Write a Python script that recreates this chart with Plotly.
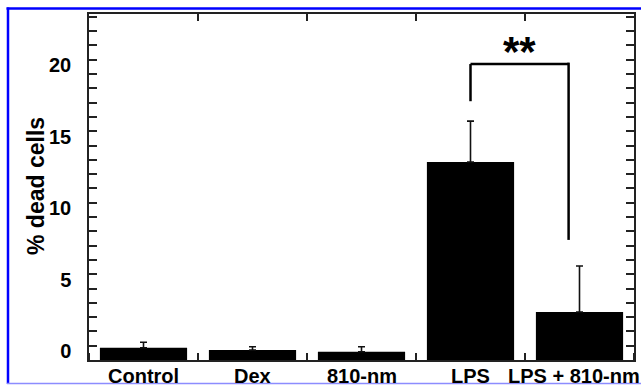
import plotly.graph_objects as go

categories = ["Control", "Dex", "810-nm", "LPS", "LPS + 810-nm"]
dead_pct = [0.86, 0.70, 0.58, 13.85, 3.36]
dead_err = [0.38, 0.23, 0.35, 2.86, 3.21]
y_ticks = [0, 5, 10, 15, 20]
y_title = "% dead cells"
# significance bracket: between LPS and LPS + 810-nm
sig_left_idx = 3.0
sig_right_idx = 3.9
sig_top = 20.7
sig_left_bottom = 18.1
sig_right_bottom = 8.4
sig_label = "**"

FONT = "Liberation Sans, Arial, sans-serif"
x_idx = list(range(len(categories)))

fig = go.Figure()
fig.add_trace(go.Bar(
    x=x_idx, y=dead_pct, width=0.8,
    marker=dict(color="black", line=dict(width=0)),
    error_y=dict(type="data", symmetric=False, array=dead_err,
                 arrayminus=[0] * len(dead_err),
                 color="#111", thickness=1.6, width=3.5),
    showlegend=False, hoverinfo="skip",
))
fig.add_trace(go.Scatter(x=[0], y=[0], xaxis="x2", mode="markers",
                         marker=dict(opacity=0), showlegend=False, hoverinfo="skip"))

line_col = "#222"
fig.update_layout(
    width=644, height=386,
    margin=dict(l=89, r=10, t=14, b=26),
    paper_bgcolor="white", plot_bgcolor="white",
    font=dict(family=FONT, color="black"),
    xaxis=dict(
        range=[-0.5, 4.5], showgrid=False, zeroline=False, automargin=False,
        showline=True, linecolor=line_col, linewidth=1.5,
        tickvals=x_idx, ticks="", showticklabels=False,
        minor=dict(ticks="inside", tick0=0.5, dtick=1, ticklen=7,
                   tickcolor=line_col, tickwidth=1.5),
    ),
    xaxis2=dict(
        overlaying="x", side="top", range=[-0.5, 4.5], showgrid=False,
        zeroline=False, showline=True, linecolor=line_col, linewidth=1.5,
        automargin=False,
        tickvals=[0.5, 1.5, 2.5, 3.5], ticks="inside", ticklen=7,
        tickcolor=line_col, tickwidth=1.5, showticklabels=False,
    ),
    yaxis=dict(
        range=[0, 24.2], showgrid=False, zeroline=False, automargin=False,
        showline=True, linecolor=line_col, linewidth=1.5, mirror="allticks",
        tickvals=y_ticks, ticks="inside", ticklen=8, tickwidth=1.5,
        tickcolor=line_col,
        tickfont=dict(size=20, family=FONT, weight="bold"),
        ticklabelshift=-9, ticklabelstandoff=12,
        minor=dict(ticks="inside", dtick=1, ticklen=5, tickwidth=1.5,
                   tickcolor=line_col),
    ),
)

px0, pw, py0, ph = 89, 545, 360, 346
def fx(p):
    return (p - px0) / pw
def fy(p):
    return (py0 - p) / ph

# category labels (last one nudged left so it stays inside the page)
for xi, cat in zip(x_idx, categories):
    fig.add_annotation(x=xi, xref="x", yref="paper", y=fy(375.5),
                       text=cat, showarrow=False, yanchor="middle",
                       xanchor="center",
                       xshift=-6 if xi == x_idx[-1] else 0,
                       font=dict(size=20, family=FONT, weight="bold"))

fig.add_annotation(xref="paper", yref="paper", x=fx(21), y=fy(186),
                   text=y_title, textangle=-90, showarrow=False,
                   font=dict(size=23, family=FONT, weight="bold"))

# significance bracket
bl = dict(color="black", width=2.5)
fig.add_shape(type="line", x0=sig_left_idx, x1=sig_left_idx,
              y0=sig_left_bottom, y1=sig_top, line=bl)
fig.add_shape(type="line", x0=sig_left_idx, x1=sig_right_idx,
              y0=sig_top, y1=sig_top, line=bl)
fig.add_shape(type="line", x0=sig_right_idx, x1=sig_right_idx,
              y0=sig_right_bottom, y1=sig_top + 0.1, line=bl)
fig.add_annotation(x=(sig_left_idx + sig_right_idx) / 2, y=sig_top + 0.85,
                   text=sig_label, showarrow=False, yanchor="middle",
                   font=dict(size=42, family=FONT, weight="bold"))

# blue frame
fig.add_shape(type="line", xref="paper", yref="paper",
              x0=fx(6.5), x1=fx(641), y0=fy(8.5), y1=fy(8.5),
              line=dict(color="#0000ff", width=2.5))
fig.add_shape(type="line", xref="paper", yref="paper",
              x0=fx(8), x1=fx(8), y0=fy(7.5), y1=fy(384),
              line=dict(color="#0000ff", width=2.5))
fig.add_shape(type="line", xref="paper", yref="paper",
              x0=fx(7), x1=fx(641), y0=fy(383.5), y1=fy(383.5),
              line=dict(color="#8c8cff", width=1.5))

fig.write_html("out.html",
               config={"displayModeBar": False},
               post_script="document.body.style.margin='0';"
                           "document.body.style.overflow='hidden';")
